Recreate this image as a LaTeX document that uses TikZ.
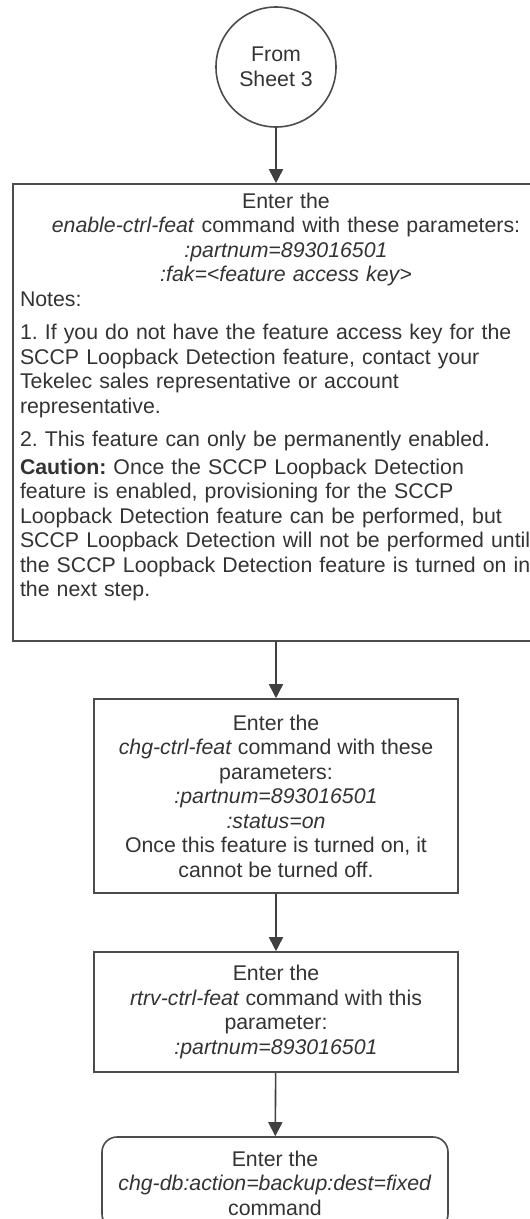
\documentclass[tikz,border=0pt]{standalone}
\usepackage{fontspec}
\setmainfont{Liberation Sans}
\usepackage{tikz}
\usetikzlibrary{shapes,arrows.meta,positioning,calc}

\begin{document}
\begin{tikzpicture}[
  x=1pt,y=-1pt,
  every node/.style={text=black!80,font=\fontsize{21.3}{24.5}\selectfont\frenchspacing},
  sheet/.style={circle,draw=black!70,line width=1.6pt,minimum size=120pt,inner sep=0pt,align=center},
  stepbox/.style={rectangle,draw=black!70,line width=1.6pt,align=center,inner sep=0pt},
  bigbox/.style={rectangle,draw=black!70,line width=1.6pt,align=left,text width=532pt,inner xsep=7pt,inner ysep=0pt,minimum height=457pt},
  endbox/.style={rectangle,rounded corners=15pt,draw=black!70,line width=1.6pt,align=center,inner sep=0pt},
  flow/.style={draw=black!75,line width=1.6pt,-{Triangle[width=14pt,length=14pt]}}
]
  \useasboundingbox (0,0) rectangle (530,1219);
  \clip (0,0) rectangle (530,1219);

  \node[sheet] (start) at (276,67) {From\\Sheet 3};

  \node[bigbox] (enable) at (286,412.5) {%
    {\centering Enter the\\
    \textit{enable-ctrl-feat} command with these parameters:\\
    \textit{:partnum=893016501}\\
    \textit{:fak=<feature access key>}\par}
    Notes:\par\vspace{9pt}
    1. If you do not have the feature access key for the\\
    SCCP Loopback Detection feature, contact your\\
    Tekelec sales representative or account\\
    representative.\par\vspace{9pt}
    2. This feature can only be permanently enabled.\par\vspace{3pt}
    \textbf{Caution:} Once the SCCP Loopback Detection\\
    feature is enabled, provisioning for the SCCP\\
    Loopback Detection feature can be performed, but\\
    SCCP Loopback Detection will not be performed until\\
    the SCCP Loopback Detection feature is turned on in\\
    the next step.\par\rule{0pt}{30pt}};

  \node[stepbox,minimum width=364pt,minimum height=194pt] (chg) at (276,796) {%
    Enter the\\
    \textit{chg-ctrl-feat} command with these\\
    parameters:\\
    \textit{:partnum=893016501}\\
    \textit{:status=on}\\
    Once this feature is turned on, it\\
    cannot be turned off.};

  \node[stepbox,minimum width=364pt,minimum height=120pt] (rtrv) at (276,1012) {%
    Enter the\\
    \textit{rtrv-ctrl-feat} command with this\\
    parameter:\\
    \textit{:partnum=893016501}};

  \node[endbox,minimum width=346pt,minimum height=92pt] (backup) at (275,1183) {%
    Enter the\\
    \textit{chg-db:action=backup:dest=fixed}\\
    command};

  \draw[flow] (start) -- (start |- enable.north);
  \draw[flow] (start |- enable.south) -- (chg);
  \draw[flow] (chg) -- (rtrv);
  \draw[flow] (rtrv) -- (backup);
\end{tikzpicture}
\end{document}
